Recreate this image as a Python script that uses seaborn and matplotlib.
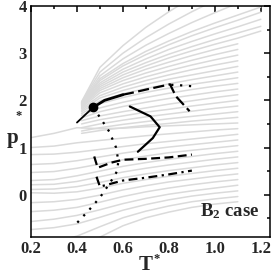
import numpy as np
import pandas as pd
import matplotlib
matplotlib.use("Agg")
import matplotlib.pyplot as plt
import seaborn as sns

# grey isochores, low-density family (T from 0.2 to 1.1)
t_low = [0.2, 0.3, 0.4, 0.5, 0.6, 0.7, 0.8, 0.9, 1.0, 1.1]
p_low = [
    [-1.40, -1.30, -1.15, -0.90, -0.66, -0.49, -0.37, -0.27, -0.20, -0.15],
    [-1.10, -1.00, -0.88, -0.68, -0.49, -0.35, -0.24, -0.15, -0.09, -0.04],
    [-0.74, -0.70, -0.62, -0.48, -0.33, -0.21, -0.11, -0.03, 0.03, 0.08],
    [-0.57, -0.52, -0.44, -0.32, -0.19, -0.08, 0.01, 0.08, 0.14, 0.20],
    [-0.36, -0.33, -0.27, -0.16, -0.04, 0.06, 0.14, 0.21, 0.27, 0.32],
    [-0.17, -0.15, -0.10, -0.01, 0.10, 0.19, 0.27, 0.33, 0.39, 0.44],
    [0.04, 0.03, 0.06, 0.14, 0.24, 0.32, 0.39, 0.45, 0.51, 0.56],
    [0.11, 0.12, 0.17, 0.26, 0.36, 0.44, 0.51, 0.57, 0.63, 0.68],
    [0.21, 0.22, 0.28, 0.38, 0.48, 0.56, 0.63, 0.69, 0.75, 0.80],
    [0.30, 0.32, 0.40, 0.50, 0.60, 0.68, 0.75, 0.81, 0.87, 0.92],
    [0.47, 0.49, 0.56, 0.65, 0.74, 0.82, 0.89, 0.94, 0.99, 1.04],
    [0.64, 0.66, 0.72, 0.80, 0.88, 0.95, 1.01, 1.06, 1.11, 1.16],
    [0.85, 0.86, 0.90, 0.96, 1.02, 1.08, 1.13, 1.18, 1.23, 1.28],
    [1.00, 1.03, 1.10, 1.15, 1.20, 1.25, 1.29, 1.33, 1.37, 1.40],
    [1.21, 1.30, 1.42, 1.40, 1.41, 1.44, 1.46, 1.48, 1.50, 1.52],
]

# grey isochores, liquid family (start near the critical point)
t_up = [0.42, 0.5, 0.6, 0.7, 0.8, 0.9, 1.0, 1.1, 1.2]
nan = np.nan
p_up = [
    [1.30, 1.36, 1.42, 1.47, 1.51, 1.56, 1.60, 1.64, nan],
    [1.35, 1.42, 1.49, 1.55, 1.61, 1.66, 1.71, 1.76, nan],
    [1.42, 1.50, 1.58, 1.65, 1.71, 1.77, 1.83, 1.88, nan],
    [1.50, 1.59, 1.67, 1.75, 1.81, 1.88, 1.94, 2.00, nan],
    [1.57, 1.67, 1.76, 1.84, 1.92, 1.99, 2.06, 2.12, nan],
    [1.63, 1.76, 1.87, 1.96, 2.04, 2.11, 2.18, 2.24, nan],
    [1.68, 1.84, 1.96, 2.06, 2.15, 2.23, 2.30, 2.36, nan],
    [1.72, 1.93, 2.06, 2.17, 2.26, 2.34, 2.41, 2.48, nan],
    [1.76, 1.99, 2.14, 2.25, 2.35, 2.44, 2.52, 2.60, nan],
    [1.79, 2.05, 2.21, 2.34, 2.45, 2.54, 2.63, 2.72, nan],
    [1.82, 2.10, 2.28, 2.42, 2.54, 2.65, 2.75, 2.84, nan],
    [1.85, 2.16, 2.35, 2.50, 2.63, 2.75, 2.86, 2.96, nan],
    [1.87, 2.21, 2.42, 2.58, 2.72, 2.85, 2.97, 3.08, nan],
    [1.89, 2.25, 2.48, 2.66, 2.81, 2.95, 3.08, 3.20, nan],
    [1.90, 2.29, 2.54, 2.73, 2.90, 3.05, 3.19, 3.32, 3.47],
    [1.91, 2.33, 2.60, 2.80, 2.98, 3.14, 3.29, 3.43, 3.57],
    [1.92, 2.37, 2.66, 2.88, 3.08, 3.25, 3.41, 3.56, 3.72],
    [1.93, 2.42, 2.73, 2.97, 3.18, 3.37, 3.54, 3.70, 3.87],
    [1.94, 2.46, 2.78, 3.04, 3.26, 3.46, 3.64, 3.81, 3.98],
    [1.95, 2.52, 2.88, 3.17, 3.42, 3.65, 3.86, 4.06, nan],
    [1.96, 2.60, 3.00, 3.33, 3.62, 3.88, 4.12, nan, nan],
    [1.97, 2.70, 3.16, 3.55, 3.88, 4.18, nan, nan, nan],
]

# black curves
coex_t = [0.40, 0.47]
coex_p = [1.53, 1.85]
crit_t, crit_p = 0.47, 1.85

widom_t = [0.47, 0.52, 0.60]
widom_p = [1.85, 2.00, 2.12]

tmd_t = [0.60, 0.63, 0.72, 0.805, 0.83, 0.89]
tmd_p = [2.12, 2.15, 2.25, 2.34, 2.09, 1.77]

tail_t = [0.81, 0.85, 0.90]
tail_p = [2.33, 2.32, 2.30]

solid_t = [0.63, 0.72, 0.76, 0.73, 0.665]
solid_p = [1.87, 1.66, 1.43, 1.20, 0.91]

dotted_t = [0.47, 0.50, 0.54, 0.57, 0.58, 0.575, 0.545, 0.50, 0.45, 0.40]
dotted_p = [1.85, 1.64, 1.34, 1.00, 0.72, 0.50, 0.26, -0.06, -0.34, -0.60]

dash_t = [0.475, 0.49, 0.55, 0.60, 0.70, 0.80, 0.90]
dash_p = [0.81, 0.57, 0.68, 0.74, 0.76, 0.79, 0.85]

dashdot_t = [0.485, 0.50, 0.60, 0.70, 0.80, 0.90]
dashdot_p = [0.38, 0.17, 0.30, 0.36, 0.43, 0.51]

x_ticks = [0.2, 0.4, 0.6, 0.8, 1.0, 1.2]
x_labels = ["0.2", "0.4", "0.6", "0.8", "1.0", "1.2"]
y_ticks = [0, 1, 2, 3, 4]
y_labels = ["0", "1", "2", "3", "4"]

rows = []
for i, ps in enumerate(p_low):
    for t, p in zip(t_low, ps):
        rows.append(("l%d" % i, t, p))
for i, ps in enumerate(p_up):
    for t, p in zip(t_up, ps):
        if not np.isnan(p):
            rows.append(("u%d" % i, t, p))
iso = pd.DataFrame(rows, columns=["line", "T", "p"])

sns.set_style("white")
plt.rcParams["font.family"] = ["Liberation Serif", "DejaVu Serif"]
plt.rcParams["font.weight"] = "bold"
plt.rcParams["mathtext.fontset"] = "custom"
plt.rcParams["mathtext.bf"] = "Liberation Serif:bold"
plt.rcParams["mathtext.rm"] = "Liberation Serif:bold"

fig = plt.figure(figsize=(2.73, 2.76), dpi=100)
ax = fig.add_axes([0.1136, 0.141, 0.8754, 0.837])

n_lines = iso["line"].nunique()
sns.lineplot(data=iso, x="T", y="p", hue="line", estimator=None,
             sort=False, palette=["#dadada"] * n_lines, legend=False,
             linewidth=1.1, ax=ax)

lw = 1.6
ax.plot(coex_t, coex_p, color="black", lw=1.3)
ax.plot(widom_t, widom_p, color="black", lw=2.0)
ax.plot(tmd_t, tmd_p, color="black", lw=lw, linestyle=(0, (5, 2)))
ax.plot(tail_t, tail_p, color="black", lw=lw, linestyle=(0, (1, 3)))
ax.plot(solid_t, solid_p, color="black", lw=lw)
ax.plot(dotted_t, dotted_p, color="black", lw=lw, linestyle=(0, (1, 3)))
ax.plot(dash_t, dash_p, color="black", lw=lw, linestyle=(0, (4, 2)))
ax.plot(dashdot_t, dashdot_p, color="black", lw=lw, linestyle=(0, (4, 2, 1, 2)))
ax.plot([crit_t], [crit_p], "o", color="black", markersize=6)

ax.set_xlim(0.2, 1.24)
ax.set_ylim(-0.9, 4.0)
ax.set_xticks(x_ticks)
ax.set_xticklabels(x_labels, fontsize=12, fontweight="bold")
ax.set_xticks(np.arange(0.3, 1.24, 0.2), minor=True)
ax.set_yticks(y_ticks)
ax.set_yticklabels(y_labels, fontsize=12, fontweight="bold")
ax.set_yticks([-0.5, 0.5, 1.5, 2.5, 3.5], minor=True)
ax.tick_params(which="both", direction="in", top=True, right=True,
               width=1.1, pad=3, color="black")
ax.tick_params(which="major", length=4)
ax.tick_params(which="minor", length=2.5)
for s in ax.spines.values():
    s.set_linewidth(1.1)
    s.set_color("black")

ax.set_xlabel("")
ax.set_ylabel("")
fig.text(0.535, 0.005, "T", fontsize=15, fontweight="bold", ha="center", va="bottom")
fig.text(0.575, 0.062, "*", fontsize=9, fontweight="bold", ha="center", va="center")
fig.text(0.045, 0.50, "p", fontsize=15, fontweight="bold", ha="center", va="center")
fig.text(0.068, 0.578, "*", fontsize=9, fontweight="bold", ha="center", va="center")
ax.text(0.955, 0.07, r"$\mathbf{B_2}$ case", transform=ax.transAxes,
        fontsize=13.5, fontweight="bold", ha="right", va="bottom")

fig.savefig("out.png", dpi=100)
